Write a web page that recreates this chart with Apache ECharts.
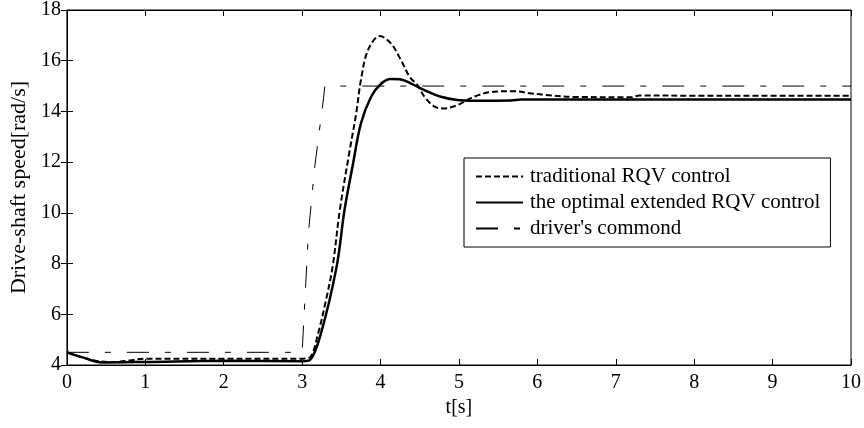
<!DOCTYPE html>
<html>
<head>
<meta charset="utf-8">
<script src="https://cdn.jsdelivr.net/npm/echarts@6/dist/echarts.min.js"></script>
<style>
  html, body { margin: 0; padding: 0; background: #fff; }
  #chart { width: 864px; height: 428px; }
</style>
</head>
<body>
<div id="chart"></div>
<script>
// traditional RQV control (dashed)
const tradT = [0, 0.2, 0.4, 0.6, 0.8, 1.0, 2.0, 3.0, 3.1, 3.2, 3.3, 3.39, 3.48, 3.6, 3.69, 3.75, 3.84, 3.99, 4.13, 4.26, 4.37, 4.47, 4.56, 4.69, 4.81, 4.98, 5.19, 5.45, 5.7, 5.9, 6.1, 6.5, 7.2, 7.3, 8, 10];
const tradV = [4.5, 4.3, 4.15, 4.12, 4.18, 4.25, 4.25, 4.25, 4.3, 5.2, 6.5, 7.9, 10.1, 12.35, 13.93, 15.24, 16.42, 16.97, 16.69, 16.03, 15.37, 15.04, 14.58, 14.19, 14.12, 14.25, 14.58, 14.78, 14.8, 14.72, 14.65, 14.57, 14.56, 14.63, 14.62, 14.62];

// the optimal extended RQV control (solid)
const optT = [0, 0.2, 0.45, 1.0, 2.0, 3.0, 3.1, 3.24, 3.44, 3.54, 3.65, 3.75, 3.88, 4.01, 4.13, 4.24, 4.39, 4.56, 4.77, 4.98, 5.19, 5.66, 5.79, 10];
const optV = [4.5, 4.3, 4.1, 4.12, 4.17, 4.15, 4.2, 5.25, 7.88, 10.1, 11.95, 13.53, 14.58, 15.1, 15.28, 15.27, 15.1, 14.84, 14.58, 14.45, 14.42, 14.43, 14.47, 14.47];

// driver's commond (dash-dot)
const cmdT = [0, 3.0, 3.08, 3.16, 3.27, 3.29, 10];
const cmdV = [4.5, 4.5, 9.2, 11.8, 14.45, 15, 15];

const seriesNames = ['traditional RQV control', 'the optimal extended RQV control', "driver's commond"];

const zip = (t, v) => t.map((x, i) => [x, v[i]]);
const font = 'Liberation Serif, Times New Roman, serif';

const baseX = {
  type: 'value', min: 0, max: 10, interval: 1,
  axisLine: { show: true, lineStyle: { color: '#000', width: 1 } },
  axisTick: { show: true, inside: true, length: 6, lineStyle: { color: '#000' } },
  splitLine: { show: false }
};
const baseY = {
  type: 'value', min: 4, max: 18, interval: 2,
  axisLine: { show: true, lineStyle: { color: '#000', width: 1 } },
  axisTick: { show: true, inside: true, length: 6, lineStyle: { color: '#000' } },
  splitLine: { show: false }
};

const option = {
  animation: false,
  backgroundColor: '#fff',
  textStyle: { fontFamily: font, color: '#000' },
  grid: { left: 65, right: 13, top: 10, bottom: 63, show: true, borderColor: '#000', borderWidth: 1 },
  legend: {
    orient: 'vertical',
    left: 464, top: 158,
    padding: [8, 10, 8, 11],
    itemGap: 5,
    itemWidth: 47,
    itemHeight: 14,
    backgroundColor: '#fff',
    borderColor: '#000',
    borderWidth: 1,
    borderRadius: 0,
    itemStyle: { opacity: 0 },
    textStyle: { fontFamily: font, fontSize: 21, color: '#000', padding: [0, 0, 0, 2] },
    data: seriesNames
  },
  xAxis: [
    Object.assign({}, baseX, {
      position: 'bottom',
      name: 't[s]', nameLocation: 'middle', nameGap: 33,
      nameTextStyle: { fontFamily: font, fontSize: 20, color: '#000' },
      axisLabel: { fontFamily: font, fontSize: 20, color: '#000', margin: 8 }
    }),
    Object.assign({}, baseX, { position: 'top', axisLabel: { show: false } })
  ],
  yAxis: [
    Object.assign({}, baseY, {
      position: 'left',
      name: 'Drive-shaft speed[rad/s]', nameLocation: 'middle', nameGap: 36,
      nameTextStyle: { fontFamily: font, fontSize: 22, color: '#000' },
      axisLabel: { fontFamily: font, fontSize: 20, color: '#000', margin: 6 }
    }),
    Object.assign({}, baseY, { position: 'right', axisLabel: { show: false } })
  ],
  series: [
    {
      name: seriesNames[0], type: 'line', data: zip(tradT, tradV),
      showSymbol: false, symbol: 'none', smooth: 0.35,
      lineStyle: { color: '#000', width: 2, type: [6, 3] },
      itemStyle: { color: '#000' }, z: 3
    },
    {
      name: seriesNames[1], type: 'line', data: zip(optT, optV),
      showSymbol: false, symbol: 'none', smooth: 0.35,
      lineStyle: { color: '#000', width: 2.5, type: 'solid' },
      itemStyle: { color: '#000' }, z: 4
    },
    {
      name: seriesNames[2], type: 'line', data: zip(cmdT, cmdV),
      showSymbol: false, symbol: 'none',
      lineStyle: { color: '#000', width: 1, type: [22, 16, 6, 16] },
      itemStyle: { color: '#000' }, z: 2
    }
  ]
};

let chartDom = document.getElementById('chart');
let myChart = echarts.init(chartDom);
myChart.setOption(option);
</script>
</body>
</html>
